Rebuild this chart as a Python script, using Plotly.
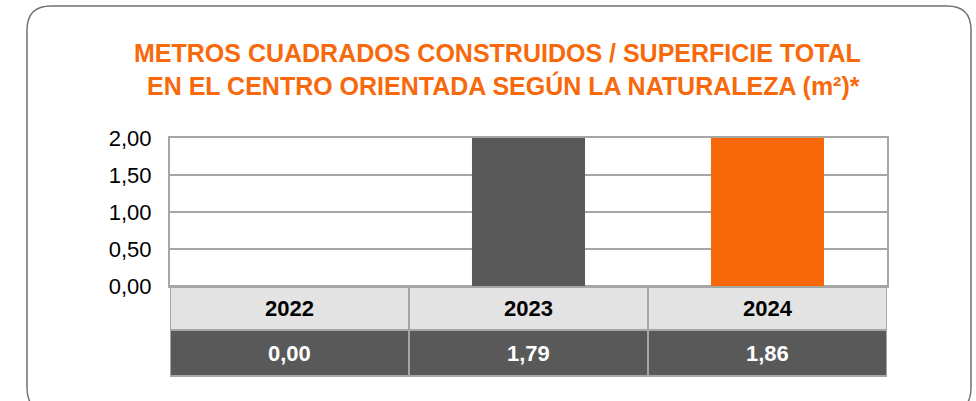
import plotly.graph_objects as go

W, H = 976, 401

# ---- data ----
categories = ["2022", "2023", "2024"]
table_values = [0.00, 1.79, 1.86]
bar_heights = [0.00, 2.00, 2.00]  # bars reach the top of the value axis in the reference
bar_colors = ["#595959", "#595959", "#F76808"]
y_ticks = [0.0, 0.5, 1.0, 1.5, 2.0]
y_tick_labels = ["0,00", "0,50", "1,00", "1,50", "2,00"]
title_lines = [
    "METROS CUADRADOS CONSTRUIDOS / SUPERFICIE TOTAL",
    "EN EL CENTRO ORIENTADA SEGÚN LA NATURALEZA (m²)*",
]

FONT = "Liberation Sans, Arial, sans-serif"
ORANGE = "#F7690B"
GRID = "#A6A6A6"


def px(x):
    return x / W


def py(y):
    return 1 - y / H


fig = go.Figure(
    go.Bar(
        x=categories,
        y=bar_heights,
        marker=dict(color=bar_colors, line=dict(width=0)),
        hoverinfo="skip",
    )
)

shapes = []
annotations = []

# rounded frame
x0, x1, y0, y1, r = 27, 971, 6, 412, 24
pts = [
    ("M", (x0 + r, y0)),
    ("L", (x1 - r, y0)),
    ("Q", (x1, y0, x1, y0 + r)),
    ("L", (x1, y1 - r)),
    ("Q", (x1, y1, x1 - r, y1)),
    ("L", (x0 + r, y1)),
    ("Q", (x0, y1, x0, y1 - r)),
    ("L", (x0, y0 + r)),
    ("Q", (x0, y0, x0 + r, y0)),
]
path = ""
for cmd, c in pts:
    coords = []
    for k in range(0, len(c), 2):
        coords.append(f"{px(c[k]):.5f},{py(c[k + 1]):.5f}")
    path += cmd + " " + " ".join(coords) + " "
path += "Z"
shapes.append(dict(type="path", path=path, xref="paper", yref="paper",
                   line=dict(color="#707070", width=1.5), layer="below"))

# title lines
annotations.append(dict(text=f"<b>{title_lines[0]}</b>", x=px(497), y=py(53), xref="paper", yref="paper",
                        xanchor="center", yanchor="middle", showarrow=False,
                        font=dict(family=FONT, size=25, color=ORANGE)))
annotations.append(dict(text=f"<b>{title_lines[1]}</b>", x=px(503), y=py(85), xref="paper", yref="paper",
                        xanchor="center", yanchor="middle", showarrow=False,
                        font=dict(family=FONT, size=25, color=ORANGE)))

# data table under the plot
row1_top, row1_bot, row2_bot = 286, 330, 376
for i, (cat, val) in enumerate(zip(categories, table_values)):
    shapes.append(dict(type="rect", xref="x", yref="paper", x0=i - 0.5, x1=i + 0.5,
                       y0=py(row1_bot), y1=py(row1_top), fillcolor="#E3E3E3",
                       line=dict(color=GRID, width=2), layer="below"))
    shapes.append(dict(type="rect", xref="x", yref="paper", x0=i - 0.5, x1=i + 0.5,
                       y0=py(row2_bot), y1=py(row1_bot), fillcolor="#595959",
                       line=dict(color=GRID, width=2), layer="below"))
    annotations.append(dict(text=f"<b>{cat}</b>", x=i, xref="x", y=py((row1_top + row1_bot) / 2),
                            yref="paper", xanchor="center", yanchor="middle", showarrow=False,
                            font=dict(family=FONT, size=22, color="#000000")))
    annotations.append(dict(text=f"<b>{val:.2f}</b>".replace(".", ","), x=i, xref="x",
                            y=py((row1_bot + row2_bot) / 2), yref="paper", xanchor="center",
                            yanchor="middle", showarrow=False,
                            font=dict(family=FONT, size=22, color="#FFFFFF")))

fig.update_layout(
    width=W,
    height=H,
    margin=dict(l=0, r=0, t=0, b=0, autoexpand=False),
    paper_bgcolor="#FFFFFF",
    plot_bgcolor="#FFFFFF",
    showlegend=False,
    bargap=0.527,
    shapes=shapes,
    annotations=annotations,
    xaxis=dict(type="category", domain=[px(170), px(887)], range=[-0.5, 2.5], showticklabels=False,
               showgrid=False, showline=True, mirror=True, linecolor=GRID, linewidth=2,
               zeroline=False, fixedrange=True),
    yaxis=dict(domain=[py(286), py(138)], range=[0, 2], tickvals=y_ticks, ticktext=y_tick_labels,
               showgrid=True, gridcolor=GRID, gridwidth=2, showline=True, mirror=True,
               linecolor=GRID, linewidth=2, zeroline=False, ticks="", ticklabelstandoff=12,
               tickfont=dict(family=FONT, size=22, color="#000000"), fixedrange=True),
)

fig.write_html(
    "out.html",
    config={"displayModeBar": False},
    post_script="document.body.style.margin='0';document.body.style.overflow='hidden';",
)
